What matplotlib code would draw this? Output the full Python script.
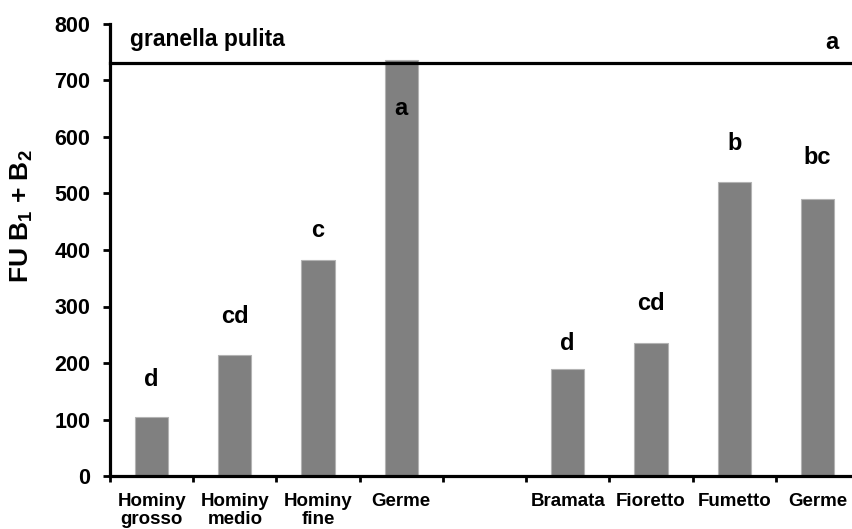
import matplotlib
matplotlib.use("Agg")
import matplotlib.pyplot as plt
import numpy as np

plt.rcParams["font.family"] = ["Liberation Sans", "DejaVu Sans"]
plt.rcParams["font.weight"] = "bold"
plt.rcParams["mathtext.fontset"] = "custom"
plt.rcParams["mathtext.rm"] = "Liberation Sans:bold"
plt.rcParams["mathtext.bf"] = "Liberation Sans:bold"
plt.rcParams["mathtext.it"] = "Liberation Sans:bold"

# Fumonisin B1 + B2 content by milling fraction
categories = ["Hominy\ngrosso", "Hominy\nmedio", "Hominy\nfine", "Germe", "",
              "Bramata", "Fioretto", "Fumetto", "Germe"]
values = [105, 215, 382, 736, np.nan, 189, 236, 520, 490]
letters = ["d", "cd", "c", "a", "", "d", "cd", "b", "bc"]
clean_grain_value = 731
clean_grain_label = "granella pulita"
clean_grain_letter = "a"
y_ticks = [0, 100, 200, 300, 400, 500, 600, 700, 800]

# vertical placement of the significance letters (data units)
letter_heights = [170, 283, 435, 651, None, 235, 306, 589, 564]

W, H = 852, 529
fig = plt.figure(figsize=(W / 100, H / 100), dpi=100)
ax = fig.add_axes([110 / W, (H - 476) / H, (859 - 110) / W, (476 - 24) / H])

x = np.arange(len(categories))
ax.bar(x, values, width=0.4, color="#808080", edgecolor="#b3b3b3", linewidth=0.8, zorder=2)

for xi, lab, ly in zip(x, letters, letter_heights):
    if lab:
        ax.text(xi, ly, lab, ha="center", va="center", fontsize=17, fontweight="bold")

ax.axhline(clean_grain_value, color="black", lw=2.3, zorder=3, clip_on=False)
ax.text(-0.26, 773, clean_grain_label, ha="left", va="center",
        fontsize=16.5, fontweight="bold")
ax.text(8.17, 768, clean_grain_letter, ha="center", va="center", fontsize=17, fontweight="bold")

ax.set_xlim(-0.5, len(categories) - 0.5)
ax.set_ylim(0, 800)
ax.set_yticks(y_ticks)
ax.set_yticklabels([str(v) for v in y_ticks], fontsize=15.5, fontweight="bold")

ax.set_xticks(x)
ax.set_xticklabels(categories, fontsize=13.5, fontweight="bold", linespacing=1.08)
ax.set_xticks(np.arange(-0.5, len(categories) + 0.5, 1.0), minor=True)
ax.tick_params(axis="x", which="major", length=0, pad=12.5)
ax.tick_params(axis="x", which="minor", length=4, width=2, direction="out")
ax.tick_params(axis="y", which="major", length=5, width=2, direction="out", pad=9)

for side in ("top", "right"):
    ax.spines[side].set_visible(False)
for side in ("left", "bottom"):
    ax.spines[side].set_linewidth(2.3)

fig.text(22 / W, 1 - 216 / H, r"FU B$_1$ + B$_2$", rotation=90, ha="center", va="center",
         fontsize=19, fontweight="bold")

fig.savefig("out.png", dpi=100)
